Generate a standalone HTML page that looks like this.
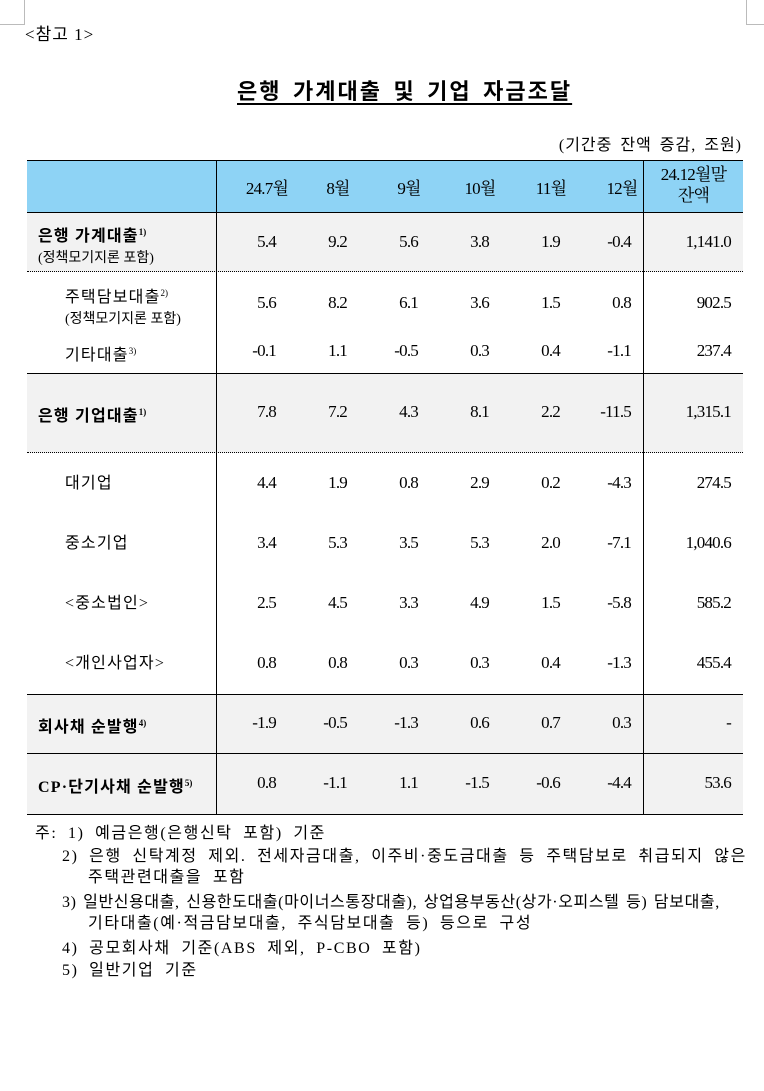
<!DOCTYPE html>
<html><head><meta charset="utf-8"><style>
body{margin:0;width:764px;height:1091px;background:#fff;position:relative;font-family:"Liberation Serif","Noto Serif CJK SC",serif;color:#000;overflow:hidden}
.a{position:absolute;white-space:nowrap}
.k{font-family:"Liberation Serif","Noto Sans CJK KR",sans-serif}
.row{position:absolute;left:27px;width:716px}
.n{position:absolute;font-size:17px;text-align:right;width:60px;letter-spacing:-0.8px}
.lbl{position:absolute;font-size:16px;letter-spacing:1.2px;white-space:nowrap}
.b{font-weight:bold}
sup{font-size:9px;vertical-align:6px;letter-spacing:0}
.fn{position:absolute;font-size:16px;left:37px;white-space:nowrap;letter-spacing:1.6px;word-spacing:5px;font-family:"Liberation Serif","Noto Sans CJK KR",sans-serif}
</style></head><body>
<div class="a" style="left:0;top:0;width:25px;height:25px;border-right:1px solid #bbb;border-bottom:1px solid #bbb;box-sizing:border-box"></div>
<div class="a" style="left:746px;top:0;width:18px;height:25px;border-left:1px solid #bbb;border-bottom:1px solid #bbb;box-sizing:border-box"></div>
<div class="a k" style="left:25px;top:20px;font-size:17px;letter-spacing:1px">&lt;참고 1&gt;</div>
<div class="a k b" style="left:237px;top:74px;font-size:22px;letter-spacing:2px;word-spacing:4px;text-decoration:underline;text-underline-offset:4px">은행 가계대출 및 기업 자금조달</div>
<div class="a k" style="right:22px;top:131px;font-size:16px;letter-spacing:1px;word-spacing:3px">(기간중 잔액 증감, 조원)</div>

<div id="tbl">
<div class="row" style="top:160px;height:53px;background:#8ed3f5;border-top:1.5px solid #000;border-bottom:1px solid #000;box-sizing:border-box"></div>
<div class="row" style="top:213px;height:59px;background:#f2f2f2;border-bottom:1px dotted #000;box-sizing:border-box"></div>
<div class="row" style="top:373px;height:80px;background:#f2f2f2;border-top:1px solid #000;border-bottom:1px dotted #000;box-sizing:border-box"></div>
<div class="row" style="top:694px;height:60px;background:#f2f2f2;border-top:1px solid #000;border-bottom:1px solid #000;box-sizing:border-box"></div>
<div class="row" style="top:754px;height:61px;background:#f2f2f2;border-bottom:1.5px solid #000;box-sizing:border-box"></div>
<div class="a" style="left:216px;top:160px;width:1px;height:655px;background:#000"></div>
<div class="a" style="left:643px;top:160px;width:1px;height:655px;background:#000"></div>
</div>

<script>
const headers=["24.7월","8월","9월","10월","11월","12월"];
const labels=[
 ['은행 가계대출<sup>1)</sup>','(정책모기지론 포함)',true,false],
 ['주택담보대출<sup>2)</sup>','(정책모기지론 포함)',false,true],
 ['기타대출<sup>3)</sup>','',false,true],
 ['은행 기업대출<sup>1)</sup>','',true,false],
 ['대기업','',false,true],
 ['중소기업','',false,true],
 ['&lt;중소법인&gt;','',false,true],
 ['&lt;개인사업자&gt;','',false,true],
 ['회사채 순발행<sup>4)</sup>','',true,false],
 ['CP·단기사채 순발행<sup>5)</sup>','',true,false]];
const monthly=[
 ["5.4","9.2","5.6","3.8","1.9","-0.4"],
 ["5.6","8.2","6.1","3.6","1.5","0.8"],
 ["-0.1","1.1","-0.5","0.3","0.4","-1.1"],
 ["7.8","7.2","4.3","8.1","2.2","-11.5"],
 ["4.4","1.9","0.8","2.9","0.2","-4.3"],
 ["3.4","5.3","3.5","5.3","2.0","-7.1"],
 ["2.5","4.5","3.3","4.9","1.5","-5.8"],
 ["0.8","0.8","0.3","0.3","0.4","-1.3"],
 ["-1.9","-0.5","-1.3","0.6","0.7","0.3"],
 ["0.8","-1.1","1.1","-1.5","-0.6","-4.4"]];
const balance=["1,141.0","902.5","237.4","1,315.1","274.5","1,040.6","585.2","455.4","-","53.6"];
const rowY=[243,304,352,413,484,544,604,664,724,784];
const tbl=document.getElementById('tbl');
headers.forEach((h,i)=>{const d=document.createElement('div');d.className='a';


d.style.cssText=`left:${237+i*71}px;top:174px;width:60px;text-align:center;font-size:17px;letter-spacing:-0.8px`;d.textContent=h;tbl.appendChild(d);});
const hb=document.createElement('div');hb.className='a';


hb.style.cssText='left:644px;top:164px;width:99px;text-align:center;font-size:17px;line-height:21px;letter-spacing:-0.8px';hb.innerHTML='24.12월말<br>잔액';tbl.appendChild(hb);
labels.forEach((l,r)=>{const d=document.createElement('div');d.className='lbl k'+(l[2]?' b':'');


const x=l[3]?65:38;const y=rowY[r]-(l[1]?21:11);
d.style.cssText=`left:${x}px;top:${y}px;line-height:21px`;
d.innerHTML=l[0]+(l[1]?'<br><span style="font-size:14px;font-weight:normal;letter-spacing:0">'+l[1]+'</span>':'');tbl.appendChild(d);
monthly[r].forEach((v,c)=>{const n=document.createElement('div');n.className='n';


n.style.left=(216+c*71)+'px';n.style.top=(rowY[r]-11)+'px';n.textContent=v;tbl.appendChild(n);});
const bb=document.createElement('div');bb.className='n';


bb.style.left='671px';bb.style.top=(rowY[r]-11)+'px';bb.textContent=balance[r];tbl.appendChild(bb);});
</script>

<div>
<div class="fn" style="top:819px;left:35px">주: 1) 예금은행(은행신탁 포함) 기준</div>
<div class="fn" style="top:842px;left:62px">2) 은행 신탁계정 제외. 전세자금대출, 이주비·중도금대출 등 주택담보로 취급되지 않은</div>
<div class="fn" style="top:863px;left:88px">주택관련대출을 포함</div>
<div class="fn" style="top:888px;left:62px;letter-spacing:0.6px;word-spacing:2px">3) 일반신용대출, 신용한도대출(마이너스통장대출), 상업용부동산(상가·오피스텔 등) 담보대출,</div>
<div class="fn" style="top:909px;left:88px">기타대출(예·적금담보대출, 주식담보대출 등) 등으로 구성</div>
<div class="fn" style="top:934px;left:62px">4) 공모회사채 기준(ABS 제외, P-CBO 포함)</div>
<div class="fn" style="top:956px;left:62px">5) 일반기업 기준</div>
</div>
</body></html>
